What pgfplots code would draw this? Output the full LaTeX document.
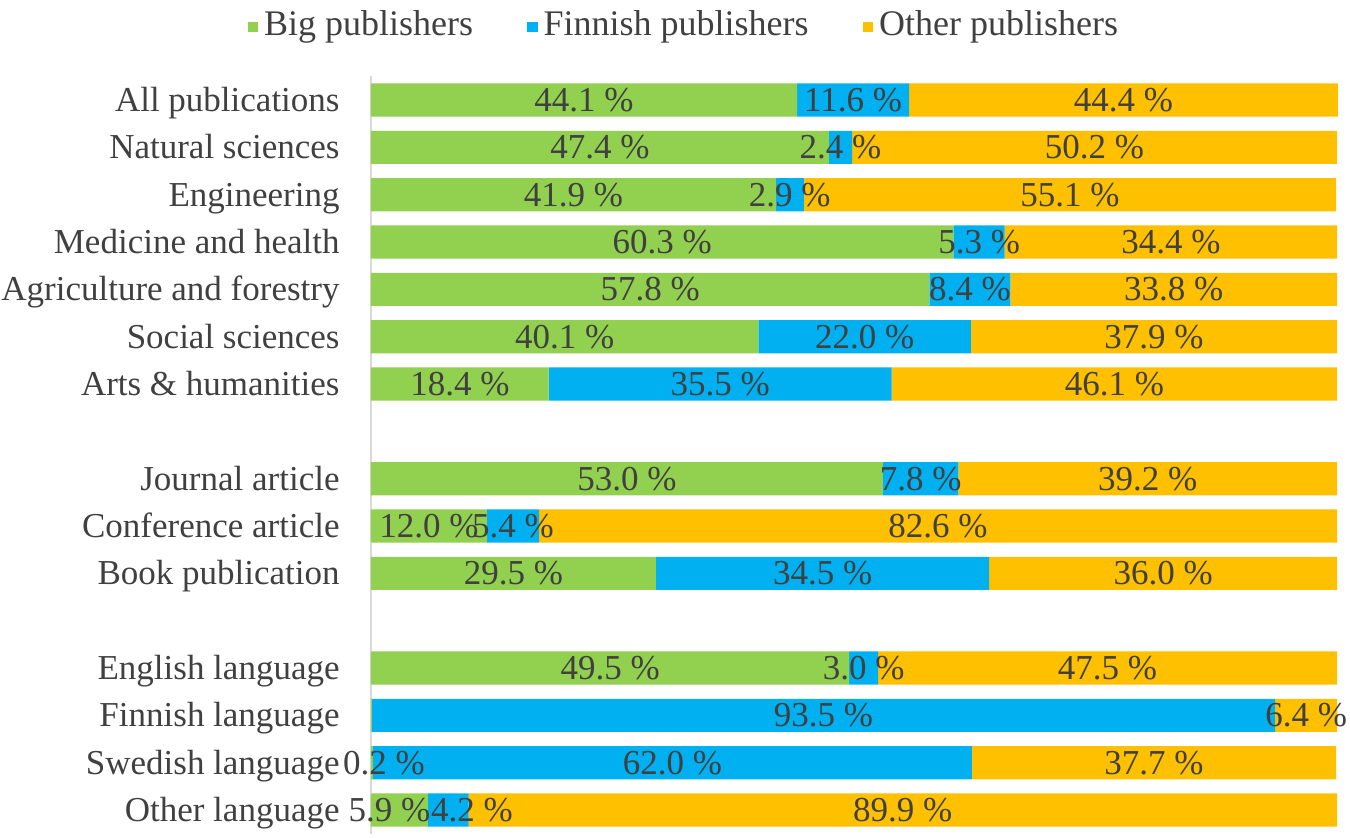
\documentclass[border=0pt]{standalone}
\usepackage{pgfplots}
\pgfplotsset{compat=1.18}
\usepackage{pgfplotstable}
\usepackage{fontspec}
\setmainfont{Liberation Serif}
\definecolor{cbig}{HTML}{92D050}
\definecolor{cfin}{HTML}{00B0F0}
\definecolor{coth}{HTML}{FFC000}
\definecolor{txt}{HTML}{404040}
\pgfplotstableread{
row big fin oth bl bs fs
0 44.1 11.6 44.4 44.1 0 0
1 47.4 2.4 50.2 47.4 0 0
2 41.9 2.9 55.1 41.9 0 0
3 60.3 5.3 34.4 60.3 0 0
4 57.8 8.4 33.8 57.8 0 0
5 40.1 22.0 37.9 40.1 0 0
6 18.4 35.5 46.1 18.4 0 0
8 53.0 7.8 39.2 53.0 0 0
9 12.0 5.4 82.6 12.0 0 0
10 29.5 34.5 36.0 29.5 0 0
12 49.5 3.0 47.5 49.5 0 0
13 0.1 93.5 6.4 nan 0 0
14 0.2 62.0 37.7 0.2 1.25 0
15 5.9 4.2 89.9 5.9 -1.05 2.45
}\data
\pgfplotsset{common/.style={scale only axis, width=483pt, height=378.67pt,
  xmin=0, xmax=100, ymin=-0.5, ymax=15.5, y dir=reverse, clip=false}}
\begin{document}
\begin{tikzpicture}
\path[use as bounding box] (-185.5pt,-2.15pt) rectangle (489.5pt,416.85pt);
\begin{axis}[common, xbar stacked, bar width=0.7,
  axis x line=none, axis y line*=left,
  y axis line style={draw=black!15, line width=0.8pt},
  ytick={0,1,2,3,4,5,6,8,9,10,12,13,14,15},
  yticklabels={All publications, Natural sciences, Engineering, Medicine and health, Agriculture and forestry, Social sciences, Arts \& humanities, Journal article, Conference article, Book publication, English language, Finnish language, Swedish language, Other language},
  ytick style={draw=none}, major tick length=0pt,
  yticklabel style={font=\fontsize{17.5}{21}\selectfont, text=txt, inner sep=0pt, xshift=-15.5pt, text height=12pt, text depth=0.4pt},
  legend columns=3,
  legend image code/.code={\fill[#1] (0pt,-2.6pt) rectangle (5.2pt,2.6pt);},
  legend style={at={(0.326,1.100)}, anchor=north, draw=none, fill=none,
    font=\fontsize{18}{21}\selectfont, text=txt,
    nodes={inner sep=3pt, text height=12pt, text depth=4pt},
    /tikz/every even column/.append style={column sep=24pt}},
]
\addplot[fill=cbig, draw=none] table[x=big, y=row]{\data};
\addplot[fill=cfin, draw=none] table[x=fin, y=row]{\data};
\addplot[fill=coth, draw=none] table[x=oth, y=row]{\data};
\legend{Big publishers, Finnish publishers, Other publishers}
\end{axis}
\begin{axis}[common, hide axis,
  nodes near coords={\pgfmathprintnumber[fixed,fixed zerofill,precision=1,assume math mode=true]{\pgfplotspointmeta}~\%},
  every node near coord/.style={anchor=center, inner sep=0pt, text=txt, font=\fontsize{17.5}{21}\selectfont, text height=12pt, text depth=0.4pt},
  point meta=explicit]
\addplot[draw=none, mark=none] table[x expr=\thisrow{bl}/2+\thisrow{bs}, y=row, meta=bl]{\data};
\addplot[draw=none, mark=none] table[x expr=\thisrow{big}+\thisrow{fin}/2+\thisrow{fs}, y=row, meta=fin]{\data};
\addplot[draw=none, mark=none] table[x expr=\thisrow{big}+\thisrow{fin}+\thisrow{oth}/2, y=row, meta=oth]{\data};
\end{axis}
\end{tikzpicture}
\end{document}
